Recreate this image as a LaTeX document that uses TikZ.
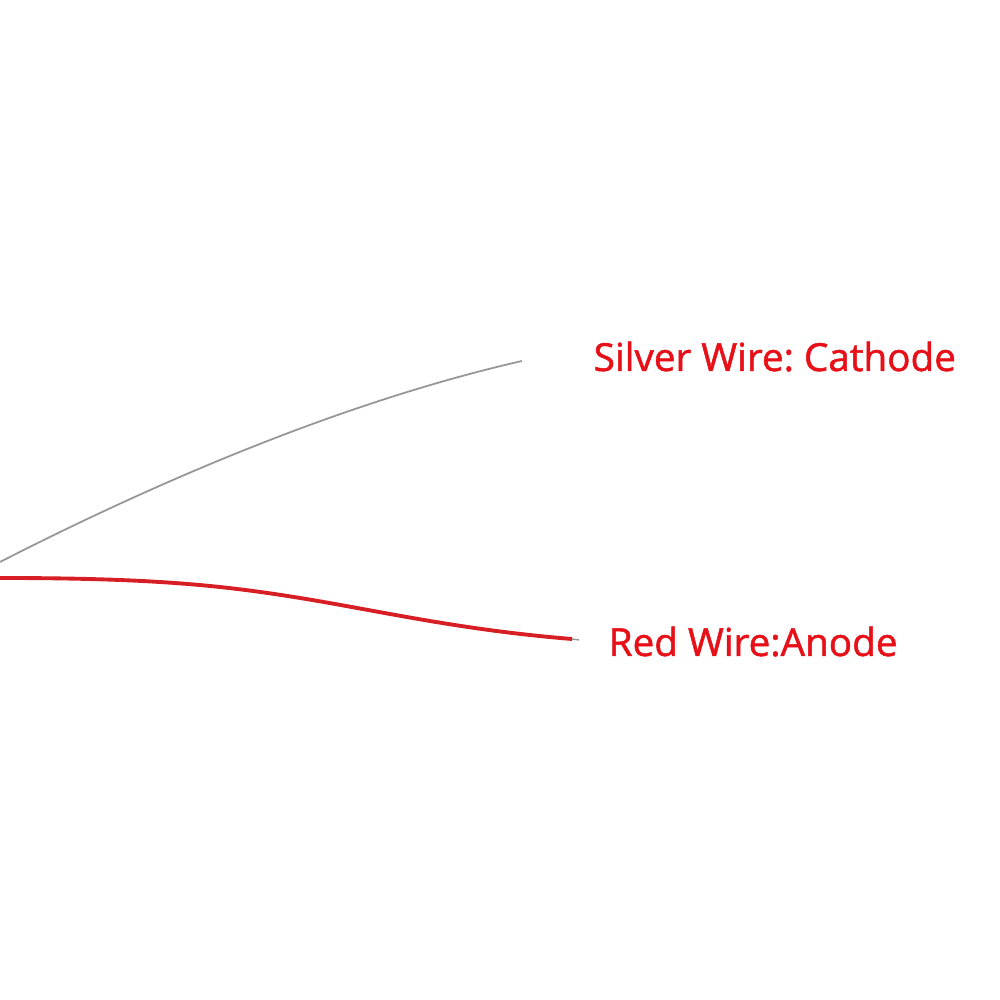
\documentclass[tikz,border=0pt]{standalone}
\usepackage{fontspec}
\setmainfont{Open Sans}
\newfontfamily\labelfont{Open Sans}[FakeBold=1.3]
\frenchspacing
\definecolor{labelred}{RGB}{232,16,24}
\definecolor{wirered}{RGB}{214,30,36}
\definecolor{silver}{RGB}{150,150,150}

\begin{document}
\begin{tikzpicture}[label/.style={anchor=base west, inner sep=0pt, text=labelred, font=\labelfont\fontsize{11}{13}\selectfont}]
\useasboundingbox[fill=white] (0,0) rectangle (10,10);
\coordinate (cs) at (0, 4.38);
\coordinate (ce) at (5.22, 6.39);
\coordinate (as) at (0, 4.22);
\coordinate (am) at (3.0, 4.02);
\coordinate (ae) at (5.72, 3.61);
\draw[silver, line width=0.5pt] (cs) .. controls (1.8, 5.3) and (3.6, 6.02) .. (ce);
\draw[wirered, line width=1.1pt] (as) .. controls (1.5, 4.22) and (2.2, 4.15) .. (am) .. controls (3.8, 3.89) and (4.6, 3.70) .. (ae);
\draw[silver, line width=0.4pt] (ae) -- ++(0.07, -0.01);
\node[label] (cathode) at (5.93, 6.29) {Silver Wire: Cathode};
\node[label] (anode) at (6.08, 3.44) {Red Wire:Anode};
\end{tikzpicture}
\end{document}
